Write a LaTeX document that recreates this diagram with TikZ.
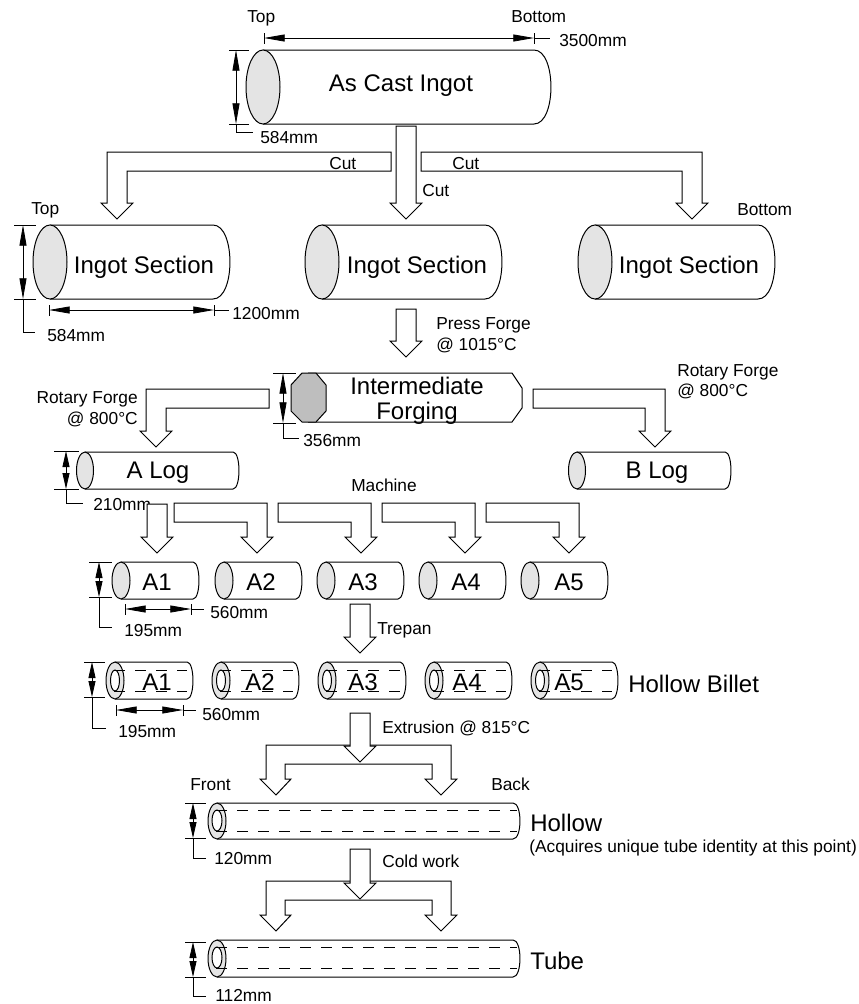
\documentclass[tikz,border=0pt]{standalone}
\usepackage{fontspec}
\setmainfont{Liberation Sans}
\usepackage{xcolor}
\usepackage{tikz}
\usetikzlibrary{arrows.meta,calc}
\definecolor{endgray}{HTML}{E4E4E4}
\definecolor{forgegray}{HTML}{BEBEBE}
\newcommand{\ingot}[6]{
\draw[part] (#1,#2)--(#4,#2) .. controls ({#4+1.33*#6},#2) and ({#4+1.33*#6},#3) .. (#4,#3)--(#1,#3);
\draw[part,fill=endgray] (#1,{(#2+#3)/2}) ellipse [x radius=#5,y radius={(#3-#2)/2}];
}
\newcommand{\bore}[5]{
\draw[part,fill=white] (#1,{(#2+#3)/2}) ellipse [x radius=#4,y radius={(#3-#2)/2}];
\draw[hidden] (#1-1,#2)--(#5,#2);
\draw[hidden] (#1-1,#3)--(#5,#3);
}
\newcommand{\downarr}[3]{
\draw[block] (#1-10,#2)--(#1-10,#3-16)--(#1-16,#3-16)--(#1,#3)--(#1+16,#3-16)--(#1+10,#3-16)--(#1+10,#2)--cycle;
}
\newcommand{\elbow}[5]{
\draw[block] (#1,#2)--({#3+#5*10},#2)--({#3+#5*10},#4-16)--({#3+#5*16},#4-16)--(#3,#4)--({#3-#5*16},#4-16)--({#3-#5*10},#4-16)--({#3-#5*10},#2+19)--(#1,#2+19)--cycle;
}
\newcommand{\fork}[1]{
\draw[block] (360,#1+19)--(285,#1+19)--(285,#1+34)--(291,#1+34)--(276,#1+50)--(260,#1+34)--(266,#1+34)--(266,#1)--(451,#1)--(451,#1+34)--(457,#1+34)--(441,#1+50)--(425,#1+34)--(432,#1+34)--(432,#1+19)--cycle;
}
\newcommand{\dimh}[4]{
\draw[dimline] (#2,#1-5)--(#2,#1+6);
\draw[dimline] (#3,#1-5)--(#3,#1+6);
\draw[dimline] (#3,#1)--(#4,#1);
\draw[dimarr] (#2,#1)--(#3,#1);
}
\newcommand{\dimv}[7][dimarr]{
\draw[dimline] (#5,#3)--(#2+13,#3);
\draw[dimline] (#5,#4)--(#2+13,#4);
\draw[dimline] (#2,#4)--(#2,#6)--(#7,#6);
\draw[#1] (#2,#3)--(#2,#4);
}
\begin{document}
\begin{tikzpicture}[
x=0.75pt,y=-0.75pt,
part/.style={draw=black,line width=0.75pt},
block/.style={draw=black,fill=white,line width=0.75pt},
hidden/.style={draw=black,line width=0.6pt,dash pattern=on 8.25pt off 7.5pt},
dimline/.style={draw=black,line width=0.6pt},
dimarr/.style={draw=black,line width=0.6pt,{Triangle[length=15.5pt,width=5.25pt]}-{Triangle[length=15.5pt,width=5.25pt]}},
dimarrs/.style={draw=black,line width=0.6pt,{Triangle[length=12pt,width=5.25pt]}-{Triangle[length=12pt,width=5.25pt]}},
big/.style={font=\fontsize{18}{20}\selectfont,inner sep=0pt,anchor=mid,yshift=-3.5pt},
lbl/.style={font=\fontsize{13}{15}\selectfont,inner sep=0pt,anchor=mid west,yshift=-2.2pt},
lblr/.style={font=\fontsize{13}{15}\selectfont,inner sep=0pt,anchor=mid east,yshift=-2.2pt}
]
\useasboundingbox (0,0) rectangle (858,1004);
\ingot{263}{50}{124}{534}{17}{17}
\node[big] (cast) at (401,83) {As Cast Ingot};
\dimh{38}{264}{534}{550}
\dimv{236}{50}{124}{229}{132}{253}
\node[lbl] (castTop) at (247,16) {Top};
\node[lbl] (castBottom) at (511,16) {Bottom};
\node[lbl] (castLen) at (559,40) {3500mm};
\node[lbl] (castDia) at (260,137) {584mm};
\elbow{391}{152}{117}{219}{-1}
\elbow{421}{152}{692}{219}{1}
\downarr{406}{126}{219}
\node[lbl] (cutL) at (329,163) {Cut};
\node[lbl] (cutM) at (422,190) {Cut};
\node[lbl] (cutR) at (452,163) {Cut};
\ingot{50}{225}{299}{213}{17}{17}
\ingot{322}{225}{299}{485}{17}{17}
\ingot{595}{225}{299}{758}{17}{17}
\node[big] (secL) at (144,265) {Ingot Section};
\node[big] (secM) at (417,265) {Ingot Section};
\node[big] (secR) at (689,265) {Ingot Section};
\dimv{23}{225}{299}{14}{332}{35}
\dimh{310}{49}{214}{229}
\node[lbl] (secTop) at (31,208) {Top};
\node[lbl] (secBottom) at (737,209) {Bottom};
\node[lbl] (secLen) at (232,313) {1200mm};
\node[lbl] (secDia) at (47,335) {584mm};
\downarr{406}{309}{357}
\node[lbl] (press) at (436,323) {Press Forge};
\node[lbl] (pressT) at (436,344) {@ 1015°C};
\draw[part] (308,373)--(512,373)--(522,388)--(522,408)--(512,422)--(308,422);
\draw[part,fill=forgegray] (302,373)--(316,373)--(326,385)--(326,411)--(316,422)--(302,422)--(291,411)--(291,385)--cycle;
\node[big] (inter1) at (417,386) {Intermediate};
\node[big] (inter2) at (417,411) {Forging};
\dimv{283}{373}{423}{273}{438}{299}
\node[lbl] (interDia) at (303,440) {356mm};
\elbow{269}{389}{156}{447}{-1}
\elbow{533}{389}{655}{447}{1}
\node[lblr] (rotL) at (138,397) {Rotary Forge};
\node[lblr] (rotLT) at (138,418) {@ 800°C};
\node[lbl] (rotR) at (677,370) {Rotary Forge};
\node[lbl] (rotRT) at (677,390) {@ 800°C};
\ingot{85}{452}{489}{233}{8.5}{6}
\ingot{577}{452}{489}{725}{8.5}{6}
\node[big] (logA) at (158,470) {A Log};
\node[big] (logB) at (657,470) {B Log};
\dimv[dimarrs]{66}{451}{489}{54}{503}{83}
\node[lbl] (logDia) at (93,504) {210mm};
\node[lbl] (machine) at (351,485) {Machine};
\downarr{157}{504}{553}
\elbow{174}{503}{257}{553}{1}
\elbow{278}{503}{361}{553}{1}
\elbow{382}{503}{465}{553}{1}
\elbow{486}{503}{569}{553}{1}
\ingot{121}{562}{599}{193}{9}{6}
\ingot{224}{562}{599}{296}{9}{6}
\ingot{326}{562}{599}{398}{9}{6}
\ingot{428}{562}{599}{500}{9}{6}
\ingot{530}{562}{599}{602}{9}{6}
\node[big] (solidA) at (157,582) {A1};
\node[big] (solidB) at (261,582) {A2};
\node[big] (solidC) at (363,582) {A3};
\node[big] (solidD) at (466,582) {A4};
\node[big] (solidE) at (569,582) {A5};
\dimv[dimarrs]{99}{562}{597}{89}{627}{112}
\dimh{609}{125}{191}{204}
\node[lbl] (solidLen) at (210,612) {560mm};
\node[lbl] (solidDia) at (124,630) {195mm};
\downarr{360}{604}{653}
\node[lbl] (trepan) at (377,628) {Trepan};
\ingot{115}{662}{699}{187}{9}{6}
\ingot{221}{662}{699}{293}{9}{6}
\ingot{327}{662}{699}{400}{9}{6}
\ingot{434}{662}{699}{506}{9}{6}
\ingot{540}{662}{699}{612}{9}{6}
\bore{115}{670}{691}{4.5}{187}
\bore{221}{670}{691}{4.5}{293}
\bore{327}{670}{691}{4.5}{400}
\bore{434}{670}{691}{4.5}{506}
\bore{540}{670}{691}{4.5}{612}
\node[big] (billetA) at (157,682) {A1};
\node[big] (billetB) at (260,682) {A2};
\node[big] (billetC) at (363,682) {A3};
\node[big] (billetD) at (467,682) {A4};
\node[big] (billetE) at (569,682) {A5};
\node[big,anchor=mid west] (billet) at (628,684) {Hollow Billet};
\dimv[dimarrs]{92}{662}{697}{84}{728}{106}
\dimh{710}{116}{183}{196}
\node[lbl] (billetLen) at (202,714) {560mm};
\node[lbl] (billetDia) at (118,731) {195mm};
\fork{745}
\downarr{360}{713}{762}
\node[lbl] (extrude) at (382,727) {Extrusion @ 815°C};
\node[lbl] (front) at (190,784) {Front};
\node[lbl] (back) at (491,784) {Back};
\ingot{217}{803}{839}{513}{9}{7}
\bore{217}{810}{831}{5}{517}
\dimv[dimarrs]{193}{803}{838}{185}{858}{206}
\node[lbl] (hollowDia) at (214,858) {120mm};
\node[big,anchor=mid west] (hollow) at (530,823) {Hollow};
\node[lbl] (hollowNote) at (529,846) {(Acquires unique tube identity at this point)};
\fork{881}
\downarr{360}{849}{899}
\node[lbl] (coldwork) at (382,861) {Cold work};
\ingot{217}{940}{977}{513}{9}{7}
\bore{217}{947}{968}{5}{517}
\dimv[dimarrs]{193}{942}{977}{185}{996}{206}
\node[lbl] (tubeDia) at (215,995) {112mm};
\node[big,anchor=mid west] (tube) at (530,961) {Tube};
\end{tikzpicture}
\end{document}
